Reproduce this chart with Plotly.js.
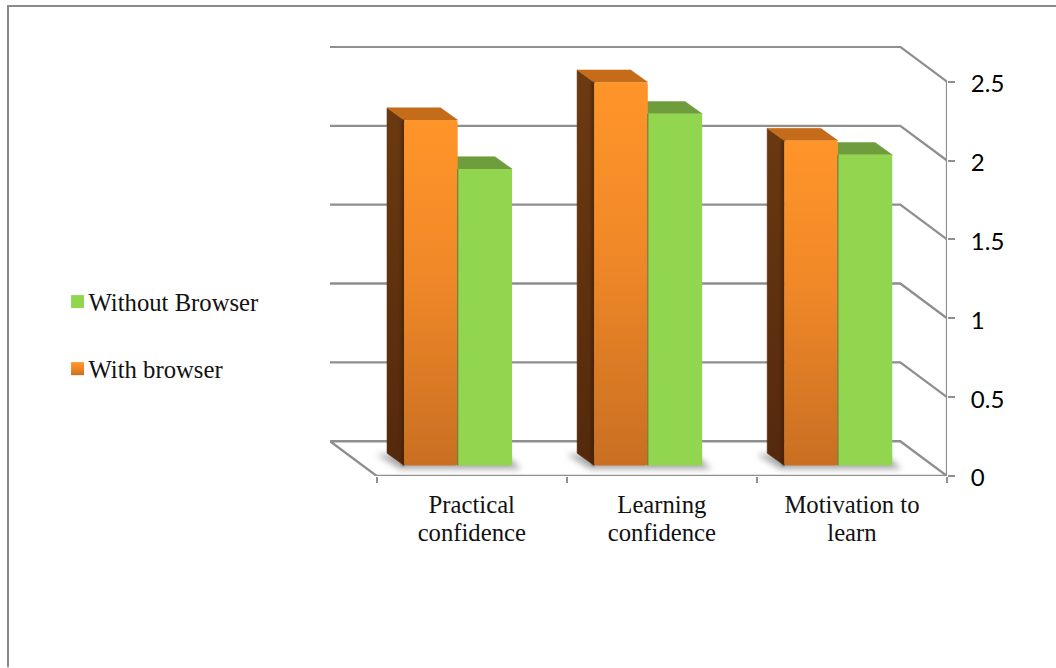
<!DOCTYPE html>
<html>
<head>
<meta charset="utf-8">
<script src="https://cdn.plot.ly/plotly-3.0.1.min.js"></script>
<style>html,body{margin:0;padding:0;background:#fff}#chart{width:1056px;height:668px}</style>
</head>
<body>
<div id="chart"></div>
<script>
// Chart values
const categories = ['Practical<br>confidence', 'Learning<br>confidence', 'Motivation to<br>learn'];
const withBrowser = [2.19, 2.43, 2.06];
const withoutBrowser = [1.88, 2.23, 1.97];
const valueTicks = [0, 0.5, 1, 1.5, 2, 2.5];
const valueTickLabels = ['0', '0.5', '1', '1.5', '2', '2.5'];
const slotEdges = [0, 1, 2, 3];
const slotCentres = [0.5, 1.5, 2.5];

// Oblique projection of the box: axis units per step into depth
const wallDX = -0.2458, wallDY = 0.2204;
const barDX = -0.09, barDY = 0.078;
const barFloor = 0.0665;
const barSplit = slotCentres.map(c => c - 0.074);
const barW = 0.282, greenW = 0.286;

const yTop = 2.7263, xLeft = wallDX;
const gridColor = '#8f8f8f';

function frameTrace(x, y) {
  return {x, y, mode: 'lines', type: 'scatter', xaxis: 'x', yaxis: 'y', showlegend: false,
    hoverinfo: 'skip', cliponaxis: false, line: {color: gridColor, width: 2.3}};
}
function polygons(makeOne, meta, color) {
  const x = [], y = [];
  makeOne.forEach(p => { p.forEach(q => { x.push(q[0]); y.push(q[1]); }); x.push(null); y.push(null); });
  return {x, y, meta, mode: 'lines', type: 'scatter', fill: 'toself', fillcolor: color, xaxis: 'x', yaxis: 'y',
    showlegend: false, hoverinfo: 'skip', cliponaxis: false, line: {width: 0.5, color}};
}
function sideFaces(vals, left) {
  return vals.map((v, i) => {
    const l = left(i), t = v + barFloor;
    return [[l, barFloor], [l + barDX, barFloor + barDY], [l + barDX, t + barDY], [l, t], [l, barFloor]];
  });
}
function topFaces(vals, left, w) {
  return vals.map((v, i) => {
    const l = left(i), t = v + barFloor;
    return [[l, t], [l + barDX, t + barDY], [l + w + barDX, t + barDY], [l + w, t], [l, t]];
  });
}

const traces = [];

// Walls, floor and the value axis
const gx = [], gy = [];
valueTicks.slice(1).forEach(v => {
  gx.push(xLeft, 3 + wallDX, 3, null);
  gy.push(v + wallDY, v + wallDY, v, null);
});
traces.push(frameTrace(gx, gy));
traces.push(frameTrace([xLeft, 3 + wallDX, 3, 0, xLeft], [wallDY, wallDY, 0, 0, wallDY]));
traces.push(frameTrace([3, 3], [0, 2.5]));

// Soft shadow each cluster casts on the floor
const shadows = barSplit.map(s => {
  const l = s - barW, r = s + barW;
  return [[l + barDX - 0.05, barFloor + barDY - 0.01], [l - 0.02, barFloor - 0.02], [r + 0.05, barFloor - 0.02],
    [r + barDX + 0.05, barFloor + barDY], [l + barDX - 0.05, barFloor + barDY - 0.01]];
});
traces.push(polygons(shadows, 'shadow', '#a8a8a8'));

// Depth faces
const leftOrange = i => barSplit[i] - barW;
const leftGreen = i => barSplit[i];
traces.push(polygons(topFaces(withoutBrowser, leftGreen, greenW), 'greenTop', '#6f9d3d'));
traces.push(polygons(sideFaces(withBrowser, leftOrange), 'orangeSide', '#5e300e'));
traces.push(polygons(topFaces(withBrowser, leftOrange, barW), 'orangeTop', '#c46c1a'));

// Dark crease where the side face meets the front face
const creaseX = [], creaseY = [];
withBrowser.forEach((v, i) => {
  creaseX.push(leftOrange(i) - 0.006, leftOrange(i) - 0.006, null);
  creaseY.push(barFloor, v + barFloor, null);
});
traces.push({x: creaseX, y: creaseY, meta: 'crease', mode: 'lines', type: 'scatter', xaxis: 'x', yaxis: 'y',
  showlegend: false, hoverinfo: 'skip', cliponaxis: false, line: {color: '#3a1c05', width: 3}, opacity: 0.6});

// Front faces
traces.push({type: 'bar', name: 'With browser', legendrank: 2, x: barSplit, y: withBrowser, base: barFloor,
  width: barW, offset: -barW, xaxis: 'x2', yaxis: 'y2', hoverinfo: 'skip', meta: 'orange',
  marker: {color: '#ec8528', cornerradius: 3, line: {width: 0}}});
traces.push({type: 'bar', name: 'Without Browser', legendrank: 1, x: barSplit, y: withoutBrowser, base: barFloor,
  width: greenW, offset: 0, xaxis: 'x2', yaxis: 'y2', hoverinfo: 'skip', meta: 'green',
  marker: {color: '#92d650', line: {width: 0}}});

// Thin olive seam between the two bars of a cluster
const seamX = [], seamY = [];
withoutBrowser.forEach((v, i) => {
  seamX.push(barSplit[i], barSplit[i], null);
  seamY.push(barFloor, Math.min(v, withBrowser[i]) + barFloor, null);
});
traces.push({x: seamX, y: seamY, mode: 'lines', type: 'scatter', xaxis: 'x2', yaxis: 'y2', showlegend: false,
  hoverinfo: 'skip', cliponaxis: false, line: {color: '#6e7a3a', width: 1.2}});

const px2paperX = p => (p - 330) / 617;
const px2paperY = p => (476.5 - p) / 430.5;

const layout = {
  width: 1056, height: 668,
  margin: {l: 330, r: 109, t: 46, b: 191.5, pad: 0},
  paper_bgcolor: '#fff', plot_bgcolor: 'rgba(0,0,0,0)',
  barmode: 'overlay',
  xaxis: {range: [xLeft, 3], tickmode: 'array', tickvals: slotCentres, ticktext: categories,
    ticks: 'outside', ticklen: 6, tickcolor: 'rgba(0,0,0,0)', tickwidth: 0, showgrid: false, zeroline: false, showline: false,
    tickangle: 0, tickfont: {family: '"Liberation Serif", serif', size: 24.7, color: '#111'}},
  yaxis: {range: [0, yTop], side: 'right', tickmode: 'array', tickvals: valueTicks, ticktext: valueTickLabels,
    ticks: 'outside', ticklen: 7, tickwidth: 2, tickcolor: gridColor, showgrid: false, zeroline: false, showline: false,
    ticklabelstandoff: 11, ticklabelshift: 2, tickfont: {family: 'Lato, sans-serif', size: 24, color: '#000'}},
  xaxis2: {range: [xLeft, 3], overlaying: 'x', anchor: 'y2', side: 'bottom', tickmode: 'array', tickvals: slotEdges,
    showticklabels: false, ticks: 'outside', ticklen: 6, tickwidth: 2, tickcolor: gridColor,
    showgrid: false, zeroline: false, showline: false},
  yaxis2: {range: [0, yTop], overlaying: 'y', anchor: 'x2', visible: false, side: 'right'},
  legend: {xref: 'container', yref: 'container', x: 0.0545, xanchor: 'left', y: 1 - 279 / 668, yanchor: 'top',
    traceorder: 'normal', itemclick: false, itemdoubleclick: false,
    bgcolor: 'rgba(0,0,0,0)', font: {family: '"Liberation Serif", serif', size: 24.7, color: '#111'}},
  shapes: [
    {type: 'line', xref: 'paper', yref: 'paper', x0: px2paperX(8), x1: px2paperX(1056), y0: px2paperY(6), y1: px2paperY(6),
      line: {color: '#8a8a8a', width: 2}},
    {type: 'line', xref: 'paper', yref: 'paper', x0: px2paperX(8), x1: px2paperX(8), y0: px2paperY(5), y1: px2paperY(668),
      line: {color: '#8a8a8a', width: 2}}
  ]
};

Plotly.newPlot('chart', traces, layout, {displayModeBar: false, responsive: false}).then(gd => {
  // Vertical gradients and blur are not available as trace attributes, so they go in as SVG defs
  const svg = gd.querySelector('.main-svg');
  const defs = svg.querySelector('defs');
  const NS = 'http://www.w3.org/2000/svg';
  function gradient(id, stops) {
    const g = document.createElementNS(NS, 'linearGradient');
    g.setAttribute('id', id); g.setAttribute('x1', 0); g.setAttribute('x2', 0); g.setAttribute('y1', 0); g.setAttribute('y2', 1);
    stops.forEach(s => {
      const st = document.createElementNS(NS, 'stop');
      st.setAttribute('offset', s[0]); st.setAttribute('stop-color', s[1]);
      g.appendChild(st);
    });
    defs.appendChild(g);
  }
  function blurFilter(id, dev) {
    const f = document.createElementNS(NS, 'filter');
    f.setAttribute('id', id);
    f.setAttribute('x', '-30%'); f.setAttribute('y', '-30%'); f.setAttribute('width', '160%'); f.setAttribute('height', '160%');
    const fe = document.createElementNS(NS, 'feGaussianBlur');
    fe.setAttribute('stdDeviation', dev);
    f.appendChild(fe);
    defs.appendChild(f);
  }
  gradient('gradFront', [[0, '#ff9529'], [0.45, '#f08828'], [1, '#c96f22']]);
  gradient('gradSide', [[0, '#6d3b11'], [1, '#54290c']]);
  blurFilter('softShadow', 3);
  blurFilter('softCrease', 1.2);

  gd.querySelectorAll('g.trace.scatter').forEach(el => {
    const tr = el.__data__ && el.__data__[0] && el.__data__[0].trace;
    if (!tr) return;
    if (tr.meta === 'orangeSide') {
      el.querySelectorAll('.js-fill').forEach(p => { p.style.fill = 'url(#gradSide)'; });
    }
    if (tr.meta === 'shadow') el.style.filter = 'url(#softShadow)';
    if (tr.meta === 'crease') el.style.filter = 'url(#softCrease)';
  });
  gd.querySelectorAll('g.trace.bars').forEach(el => {
    const tr = el.__data__ && el.__data__[0] && el.__data__[0].trace;
    if (tr && tr.meta === 'orange') {
      el.querySelectorAll('path').forEach(p => { p.style.fill = 'url(#gradFront)'; });
    }
  });

  // Tighter leading on the two-line category labels
  gd.querySelectorAll('.xtick text tspan.line').forEach(t => {
    if (t.getAttribute('dy') && parseFloat(t.getAttribute('dy')) > 0) t.setAttribute('dy', '28px');
  });

  // Legend: rows spaced apart, swatch hugging the label, orange key shaded like the bars
  gd.querySelectorAll('.legend .traces').forEach((el, i) => {
    const tr = el.__data__ && el.__data__[0] && el.__data__[0].trace;
    const txt = el.querySelector('.legendtext');
    if (txt) {
      txt.setAttribute('x', 31);
      txt.querySelectorAll('tspan').forEach(t => { if (t.getAttribute('x')) t.setAttribute('x', 31); });
    }
    const sw = el.querySelector('.legendbar path') || el.querySelector('.legendpoints path');
    if (sw) {
      sw.setAttribute('d', 'M6.5,6.5H-6.5V-6.5H6.5Z');
      if (tr && tr.meta === 'orange') sw.style.fill = 'url(#gradFront)';
    }
    if (i === 1) {
      const m = /translate\(([^,]+),\s*([^)]+)\)/.exec(el.getAttribute('transform') || '');
      if (m) el.setAttribute('transform', 'translate(' + m[1] + ',' + (parseFloat(m[2]) + 32) + ')');
    }
  });
  const lbg = gd.querySelector('.legend .scrollbox');
  if (lbg) lbg.removeAttribute('clip-path');
  const lg = gd.querySelector('.legend');
  if (lg) lg.style.overflow = 'visible';
});
</script>
</body>
</html>
